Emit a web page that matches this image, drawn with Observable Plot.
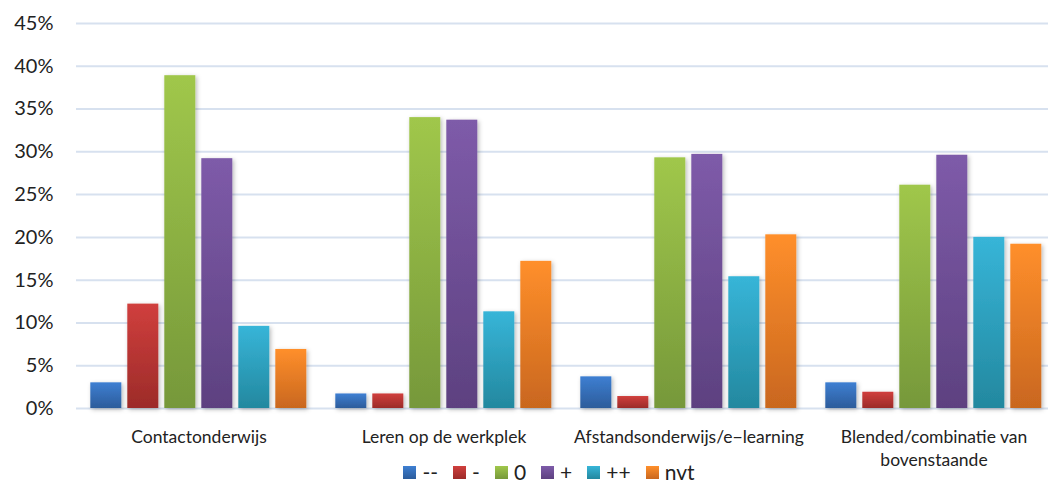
<!DOCTYPE html>
<html>
<head>
<meta charset="utf-8">
<script src="https://cdn.jsdelivr.net/npm/d3@7"></script>
<script src="https://cdn.jsdelivr.net/npm/@observablehq/plot@0.6"></script>
<style>
  html, body { margin: 0; padding: 0; background: #fff; overflow: hidden; }
  #wrap { position: relative; width: 1048px; height: 483px; font-family: Lato, "Open Sans", sans-serif; }
  #legend { position: absolute; top: 461px; left: 0; width: 1048px; height: 22px; line-height: 22px; display: flex; justify-content: center; align-items: center; padding-left: 50px; box-sizing: border-box; font-size: 21px; color: #222; }
  .item { display: flex; align-items: center; margin: 0 7.5px; }
  .sw { width: 13px; height: 13px; min-width: 13px; flex-shrink: 0; margin-right: 6px; }
</style>
</head>
<body>
<svg width="0" height="0" style="position:absolute">
  <defs id="defs"></defs>
</svg>
<div id="wrap">
  <div id="chart"></div>
  <div id="legend"></div>
</div>
<script>
const groups = ["Contactonderwijs", "Leren op de werkplek", "Afstandsonderwijs/e\u2212learning", "Blended/combinatie van bovenstaande"];
const groupLabels = ["Contactonderwijs", "Leren op de werkplek", "Afstandsonderwijs/e\u2212learning", "Blended/combinatie van\nbovenstaande"];
const series = ["--", "-", "0", "+", "++", "nvt"];
const valMinMin = [3.0, 1.7, 3.7, 3.0];
const valMin = [12.2, 1.7, 1.4, 1.9];
const valZero = [38.9, 34.0, 29.3, 26.1];
const valPlus = [29.2, 33.7, 29.7, 29.6];
const valPlusPlus = [9.6, 11.3, 15.4, 20.0];
const valNvt = [6.9, 17.2, 20.3, 19.2];
const yTicks = [0, 5, 10, 15, 20, 25, 30, 35, 40, 45];
const topColors = ["#3e7fd2", "#d03f3d", "#a0c74b", "#7e5ba9", "#37b5d8", "#ff8f2b"];
const bottomColors = ["#2c5c9b", "#9c2b29", "#76983a", "#5d4180", "#23889f", "#c9671f"];

const seriesValues = [valMinMin, valMin, valZero, valPlus, valPlusPlus, valNvt];
const data = [];
series.forEach((s, si) => groups.forEach((g, gi) => data.push({group: g, series: s, value: seriesValues[si][gi]})));

// gradients + shadow
const defs = d3.select("#defs");
series.forEach((s, i) => {
  const lg = defs.append("linearGradient").attr("id", "g" + i).attr("x1", 0).attr("y1", 0).attr("x2", 0).attr("y2", 1);
  lg.append("stop").attr("offset", "0%").attr("stop-color", topColors[i]);
  lg.append("stop").attr("offset", "100%").attr("stop-color", bottomColors[i]);
});
const f = defs.append("filter").attr("id", "shadow").attr("x", "-30%").attr("y", "-10%").attr("width", "160%").attr("height", "130%");
f.append("feDropShadow").attr("dx", 1.5).attr("dy", 1.5).attr("stdDeviation", 2.2).attr("flood-color", "#000").attr("flood-opacity", 0.28);

const urls = series.map((s, i) => `url(#g${i})`);

const chart = Plot.plot({
  width: 1048,
  height: 461,
  marginLeft: 74.7,
  marginRight: -9,
  marginTop: 23,
  marginBottom: 53,
  style: {fontFamily: "Lato, 'Open Sans', sans-serif", color: "#222", background: "white", overflow: "visible"},
  fx: {domain: groups, paddingInner: 0, paddingOuter: 0, label: null, axis: null},
  x: {domain: series, paddingInner: 0.167, paddingOuter: 0.386, axis: null},
  y: {domain: [0, 45], label: null},
  color: {domain: series, range: urls},
  marks: [
    Plot.ruleY(yTicks, {stroke: "#d7e1ef", strokeWidth: 2, facet: "exclude"}),
    Plot.barY(data, {fx: "group", x: "series", y: "value", fill: "series", render: (index, scales, values, dimensions, context, next) => {
      const g = next(index, scales, values, dimensions, context);
      g.setAttribute("filter", "url(#shadow)");
      return g;
    }}),
    Plot.axisY(yTicks, {tickSize: 0, tickPadding: 23, fontSize: 20, tickFormat: d => d + "%", label: null}),
    Plot.axisFx({anchor: "bottom", tickSize: 0, tickPadding: 18, fontSize: 17.5, lineHeight: 1.31, tickFormat: d => groupLabels[groups.indexOf(d)], label: null})
  ]
});
document.getElementById("chart").appendChild(chart);

const legend = d3.select("#legend");
series.forEach((s, i) => {
  const it = legend.append("div").attr("class", "item");
  it.append("div").attr("class", "sw").style("background", `linear-gradient(${topColors[i]}, ${bottomColors[i]})`);
  it.append("span").text(s);
});
</script>
</body>
</html>
